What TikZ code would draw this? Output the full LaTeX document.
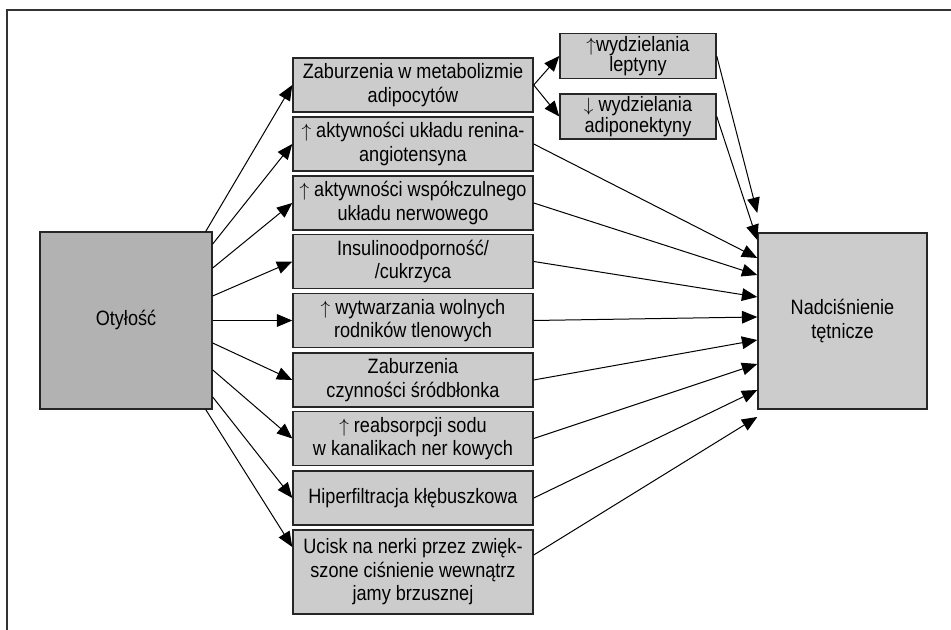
\documentclass[tikz,border=0pt]{standalone}
\usepackage{fontspec}
\setmainfont{Liberation Sans}[FakeStretch=0.87]
\usepackage{xcolor}
\usepackage{tikz}
\usetikzlibrary{arrows.meta}

\definecolor{fatgray}{gray}{0.70}
\definecolor{boxgray}{gray}{0.80}

\begin{document}
\begin{tikzpicture}[x=0.75pt,y=-0.75pt]
	\tikzstyle{cause} = [draw=black!85, line width=1.1pt, fill=boxgray, minimum width=180pt, minimum height=40.5pt, inner sep=0pt, align=center, font=\fontsize{15.6pt}{17.6pt}\selectfont]
	\tikzstyle{hormone} = [cause, minimum width=117pt, minimum height=34pt, font=\fontsize{15.6pt}{15.5pt}\selectfont]
	\tikzstyle{bigbox} = [cause, minimum width=129pt, minimum height=132.5pt]
	\tikzset{edge/.style = {line width=0.75pt, -{Triangle[length=11.5pt,width=9.5pt]}}}

	\useasboundingbox (0,0) rectangle (951,630);
	\draw[line width=1.5pt, black!80] (951,10) -| (7,630);

	\node[bigbox, fill=fatgray](otyl) at (126,320.5) {Otyłość};
	\node[bigbox, minimum width=126.75pt, minimum height=132pt](nadc) at (842.5,321) {Nadciśnienie\\tętnicze};

	\node[cause](adipo) at (413,85) {Zaburzenia w metabolizmie\\adipocytów};
	\node[cause](renina) at (413,144) {$\uparrow$ aktywności układu renina-\\angiotensyna};
	\node[cause](wspol) at (413,203) {$\uparrow$ aktywności współczulnego\\układu nerwowego};
	\node[cause](insul) at (413,261.5) {Insulinoodporność/\\/cukrzyca};
	\node[cause](rodnik) at (413,320.5) {$\uparrow$ wytwarzania wolnych\\rodników tlenowych};
	\node[cause](srodb) at (413,380) {Zaburzenia\\czynności śródbłonka};
	\node[cause](sod) at (413,438.5) {$\uparrow$ reabsorpcji sodu\\w kanalikach ner kowych};
	\node[cause](hiper) at (413,498) {Hiperfiltracja kłębuszkowa};
	\node[cause, minimum height=63pt](ucisk) at (413,572) {Ucisk na nerki przez zwięk-\\szone ciśnienie wewnątrz\\jamy brzusznej};

	\node[hormone](lept) at (638,56) {$\uparrow$wydzielania\\leptyny};
	\node[hormone](adipon) at (638,116.5) {$\downarrow$ wydzielania\\adiponektyny};

	% otylosc -> przyczyny
	\draw[edge]([xshift=-5.25pt]otyl.north east) to (adipo.west);
	\draw[edge]([yshift=57.4pt]otyl.east) to (renina.west);
	\draw[edge]([yshift=39.4pt]otyl.east) to (wspol.west);
	\draw[edge]([yshift=18.4pt]otyl.east) to (insul.west);
	\draw[edge](otyl.east) to (rodnik.west);
	\draw[edge]([yshift=-16.9pt]otyl.east) to (srodb.west);
	\draw[edge]([yshift=-37.1pt]otyl.east) to (sod.west);
	\draw[edge]([yshift=-57.4pt]otyl.east) to (hiper.west);
	\draw[edge]([xshift=-5.25pt]otyl.south east) to ([yshift=18.75pt]ucisk.west);

	% adipocyty -> hormony
	\draw[edge](adipo.east) to (lept.west);
	\draw[edge](adipo.east) to (adipon.west);

	% przyczyny -> nadcisnienie
	\draw[edge](lept.east) to ([yshift=81pt]nadc.west);
	\draw[edge](adipon.east) to ([yshift=60.75pt]nadc.west);
	\draw[edge](renina.east) to ([yshift=47.25pt]nadc.west);
	\draw[edge](wspol.east) to ([yshift=34.5pt]nadc.west);
	\draw[edge](insul.east) to ([yshift=18pt]nadc.west);
	\draw[edge](rodnik.east) to ([yshift=3pt]nadc.west);
	\draw[edge](srodb.east) to ([yshift=-14.25pt]nadc.west);
	\draw[edge](sod.east) to ([yshift=-32.25pt]nadc.west);
	\draw[edge](hiper.east) to ([yshift=-51.75pt]nadc.west);
	\draw[edge]([yshift=12.75pt]ucisk.east) to ([yshift=-72pt]nadc.west);

\end{tikzpicture}
\end{document}
